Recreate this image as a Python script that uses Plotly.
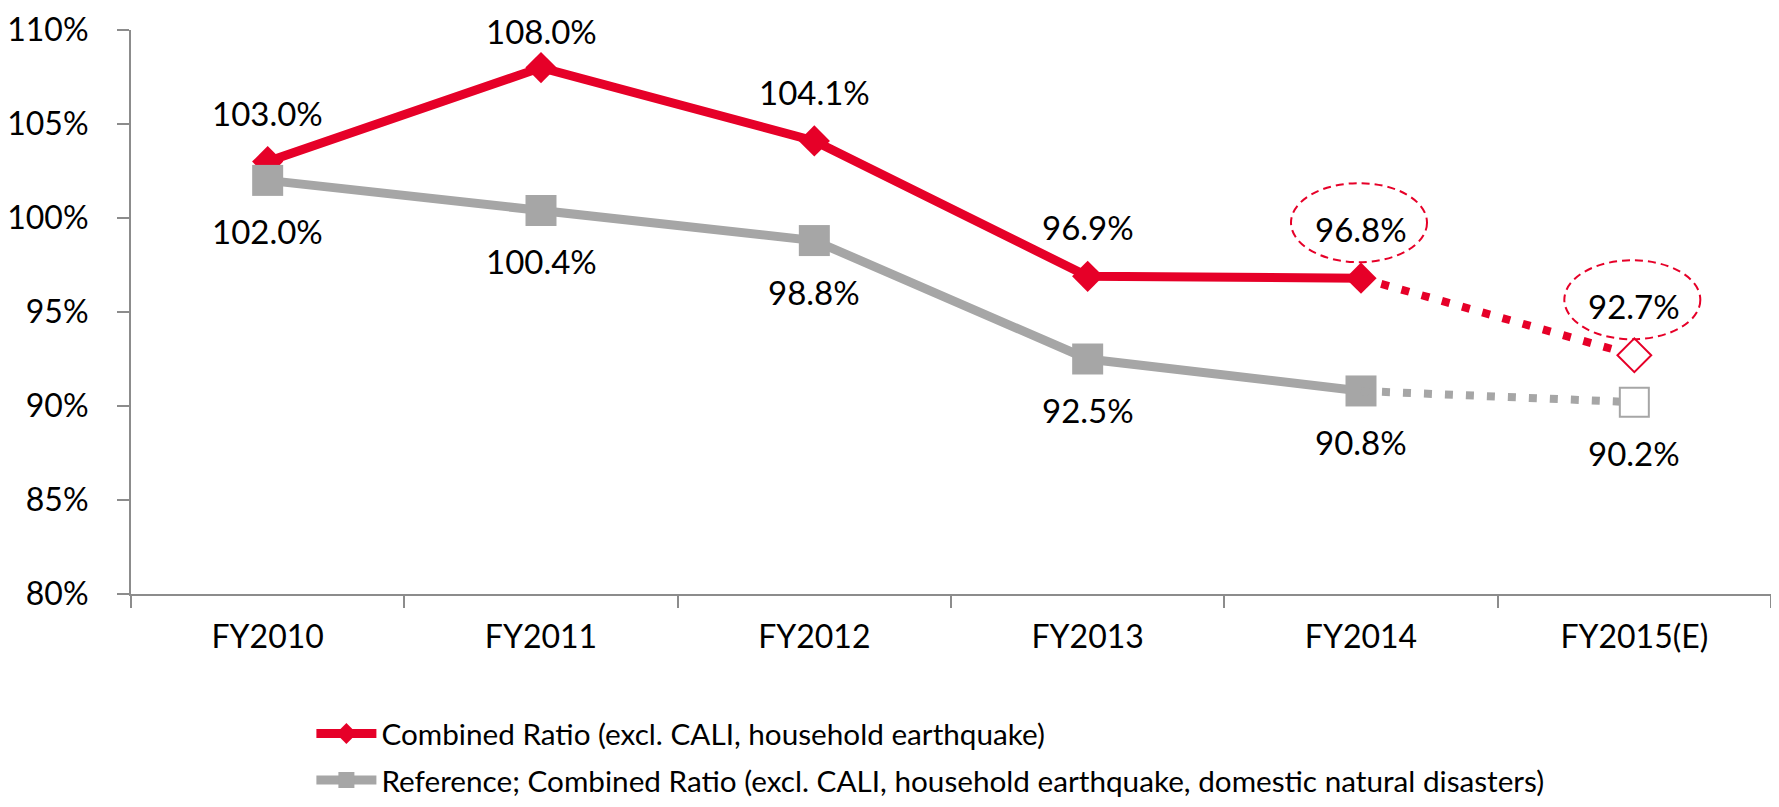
import plotly.graph_objects as go

categories = ["FY2010", "FY2011", "FY2012", "FY2013", "FY2014", "FY2015(E)"]
combined_ratio = [103.0, 108.0, 104.1, 96.9, 96.8, 92.7]
reference_ratio = [102.0, 100.4, 98.8, 92.5, 90.8, 90.2]
n_actual = 5  # first five are results, the last one is an estimate
y_ticks = [80, 85, 90, 95, 100, 105, 110]
name_combined = "Combined Ratio (excl. CALI, household earthquake)"
name_reference = "Reference; Combined Ratio (excl. CALI, household earthquake, domestic natural disasters)"
circled = [4, 5]  # indices of red labels with a dashed ellipse

RED = "#E60028"
GRAY = "#A6A6A6"
AXIS = "#8C8C8C"
FONT = "Lato"

# the page body adds an 8px margin, so the figure is sized to fill the window exactly
W, H = 1763, 791
M = dict(l=123, r=0, t=22, b=205, autoexpand=False)
Y_MIN, Y_MAX = 80, 110
plot_h = H - M["t"] - M["b"]

fig = go.Figure()


def add_series(values, color, symbol, msize, hsize, name, group):
    fig.add_trace(go.Scatter(
        x=categories[:n_actual], y=values[:n_actual], mode="lines+markers",
        line=dict(color=color, width=9),
        marker=dict(symbol=symbol, size=msize, color=color),
        name=name, legendgroup=group, showlegend=True))
    fig.add_trace(go.Scatter(
        x=categories[n_actual - 1:], y=values[n_actual - 1:], mode="lines",
        line=dict(color=color, width=8, dash="8px,13px"),
        legendgroup=group, showlegend=False, hoverinfo="skip"))
    fig.add_trace(go.Scatter(
        x=categories[n_actual:], y=values[n_actual:], mode="markers",
        marker=dict(symbol=symbol, size=hsize, color="white",
                    line=dict(color=color, width=2)),
        legendgroup=group, showlegend=False))


add_series(combined_ratio, RED, "diamond", 24, 26, name_combined, "a")
add_series(reference_ratio, GRAY, "square", 31, 29, name_reference, "b")

annotations = []
for c, v in zip(categories, combined_ratio):
    # keep the label inside the figure when the point is close to the top
    px_from_top = M["t"] + (Y_MAX - v) / (Y_MAX - Y_MIN) * plot_h
    annotations.append(dict(x=c, y=v, text=f"{v:.1f}%", showarrow=False,
                            yshift=min(49, px_from_top - 23),
                            font=dict(family=FONT, size=33, color="black")))
for c, v in zip(categories, reference_ratio):
    annotations.append(dict(x=c, y=v, text=f"{v:.1f}%", showarrow=False,
                            yshift=-51, font=dict(family=FONT, size=33, color="black")))

shapes = []
for i in circled:
    shapes.append(dict(type="circle", xref="x", yref="y",
                       xsizemode="pixel", ysizemode="pixel",
                       xanchor=i, yanchor=combined_ratio[i],
                       x0=-70, x1=66, y0=16, y1=95,
                       line=dict(color=RED, width=2, dash="8px,5px"),
                       fillcolor="rgba(0,0,0,0)"))

fig.update_layout(
    width=W, height=H, margin=M,
    paper_bgcolor="white", plot_bgcolor="white",
    font=dict(family=FONT, size=32, color="black"),
    showlegend=True,
    legend=dict(x=0.110, xanchor="left", y=-0.2016, yanchor="top",
                orientation="v", traceorder="grouped", tracegroupgap=5,
                itemwidth=60, font=dict(family=FONT, size=29.7, color="black"),
                bgcolor="rgba(0,0,0,0)"),
    annotations=annotations, shapes=shapes,
)
fig.update_xaxes(type="category", range=[-0.5, len(categories) - 0.5],
                 showline=True, linecolor=AXIS, linewidth=2, automargin=False,
                 ticks="outside", tickson="boundaries", ticklen=12, tickwidth=2,
                 tickcolor=AXIS, showgrid=False, zeroline=False,
                 ticklabelstandoff=14, tickfont=dict(family=FONT, size=32))
fig.update_yaxes(range=[Y_MIN, Y_MAX], tickmode="array", tickvals=y_ticks,
                 ticktext=[f"{t}%" for t in y_ticks], automargin=False,
                 ticklabeloverflow="allow",
                 showline=True, linecolor=AXIS, linewidth=2,
                 ticks="outside", ticklen=12, tickwidth=2, tickcolor=AXIS,
                 showgrid=False, zeroline=False, ticklabelstandoff=22,
                 tickfont=dict(family=FONT, size=32))

fig.write_html("out.html")
